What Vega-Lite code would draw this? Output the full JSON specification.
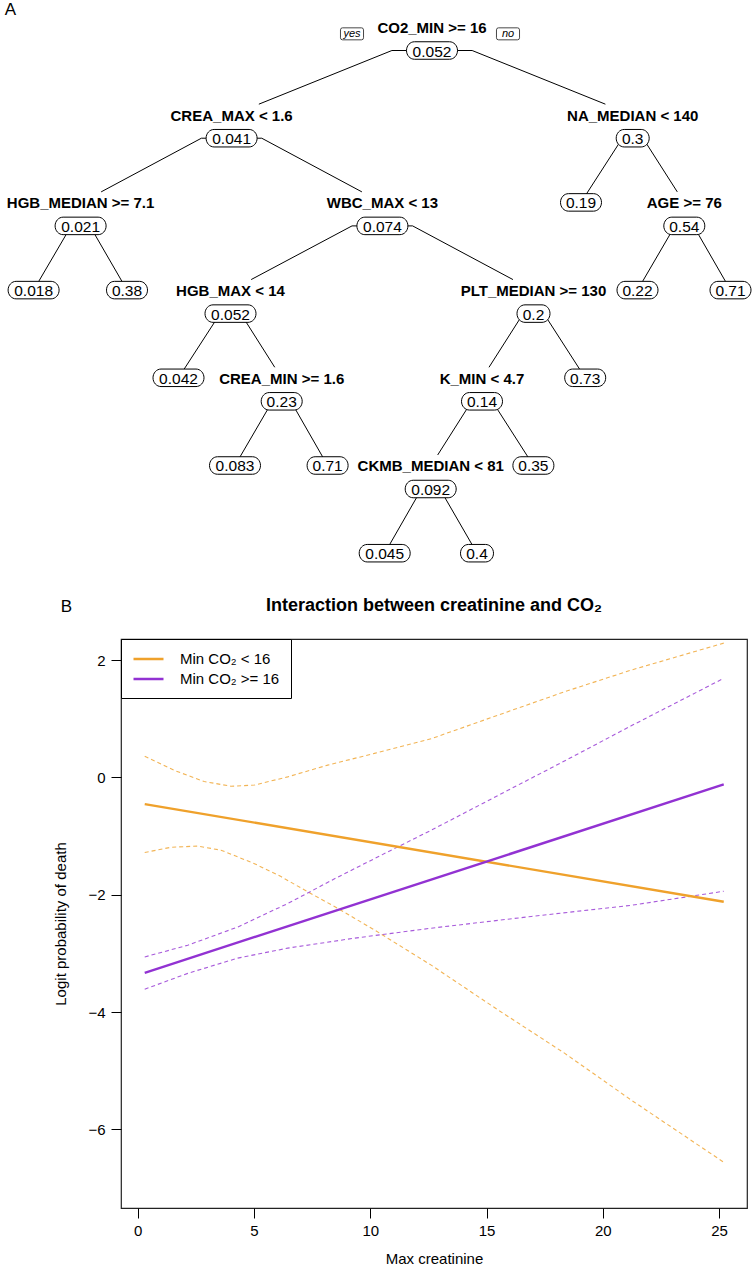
{
  "$schema": "https://vega.github.io/schema/vega-lite/v6.json",
  "background": "white",
  "padding": {"left": 4, "top": 0, "right": 0, "bottom": 0},
  "bounds": "flush",
  "spacing": 19,
  "resolve": {"scale": {"color": "independent", "shape": "independent"}, "legend": {"color": "independent", "shape": "independent"}},
  "config": {"font": "Liberation Sans", "text": {"font": "Liberation Sans"}},
  "datasets": {
    "nodes": [
      {"id": 1, "parent": null, "split": "CO2_MIN >= 16", "val": "0.052", "tx": 431, "d": 0},
      {"id": 2, "parent": 1, "split": "CREA_MAX < 1.6", "val": "0.041", "tx": 230.6, "d": 1},
      {"id": 3, "parent": 1, "split": "NA_MEDIAN < 140", "val": "0.3", "tx": 631.7, "d": 1},
      {"id": 4, "parent": 2, "split": "HGB_MEDIAN >= 7.1", "val": "0.021", "tx": 79.6, "d": 2},
      {"id": 5, "parent": 2, "split": "WBC_MAX < 13", "val": "0.074", "tx": 381.4, "d": 2},
      {"id": 6, "parent": 3, "split": "AGE >= 76", "val": "0.54", "tx": 683.3, "d": 2},
      {"id": 7, "parent": 5, "split": "HGB_MAX < 14", "val": "0.052", "tx": 229.5, "d": 3},
      {"id": 8, "parent": 5, "split": "PLT_MEDIAN >= 130", "val": "0.2", "tx": 532.5, "d": 3},
      {"id": 9, "parent": 7, "split": "CREA_MIN >= 1.6", "val": "0.23", "tx": 280.7, "d": 4},
      {"id": 10, "parent": 8, "split": "K_MIN < 4.7", "val": "0.14", "tx": 481, "d": 4},
      {"id": 11, "parent": 10, "split": "CKMB_MEDIAN < 81", "val": "0.092", "tx": 429.7, "d": 5},
      {"id": 12, "parent": 4, "split": "", "val": "0.018", "tx": 32.6, "d": 3},
      {"id": 13, "parent": 4, "split": "", "val": "0.38", "tx": 126, "d": 3},
      {"id": 14, "parent": 3, "split": "", "val": "0.19", "tx": 580, "d": 2},
      {"id": 15, "parent": 6, "split": "", "val": "0.22", "tx": 636.5, "d": 3},
      {"id": 16, "parent": 6, "split": "", "val": "0.71", "tx": 729.5, "d": 3},
      {"id": 17, "parent": 7, "split": "", "val": "0.042", "tx": 177.5, "d": 4},
      {"id": 18, "parent": 8, "split": "", "val": "0.73", "tx": 584.2, "d": 4},
      {"id": 19, "parent": 9, "split": "", "val": "0.083", "tx": 234, "d": 5},
      {"id": 20, "parent": 9, "split": "", "val": "0.71", "tx": 326.6, "d": 5},
      {"id": 21, "parent": 10, "split": "", "val": "0.35", "tx": 532.4, "d": 5},
      {"id": 22, "parent": 11, "split": "", "val": "0.045", "tx": 383.7, "d": 6},
      {"id": 23, "parent": 11, "split": "", "val": "0.4", "tx": 476, "d": 6}
    ],
    "ann": [
      {"kind": "yn", "txt": "yes", "tx": 351, "d": 0.078},
      {"kind": "yn", "txt": "no", "tx": 507, "d": 0.078},
      {"kind": "panel", "txt": "A", "tx": 9.5, "d": -0.194},
      {"kind": "panel", "txt": "B", "tx": 65.5, "d": 6.613}
    ],
    "curves": [
      {"g": "Min CO₂ < 16", "b": "fit", "x": 0.3, "y": -0.455},
      {"g": "Min CO₂ < 16", "b": "fit", "x": 25.2, "y": -2.12},
      {"g": "Min CO₂ < 16", "b": "upper", "x": 0.3, "y": 0.36},
      {"g": "Min CO₂ < 16", "b": "upper", "x": 1.57, "y": 0.12},
      {"g": "Min CO₂ < 16", "b": "upper", "x": 2.86, "y": -0.07},
      {"g": "Min CO₂ < 16", "b": "upper", "x": 4.01, "y": -0.15},
      {"g": "Min CO₂ < 16", "b": "upper", "x": 5.02, "y": -0.13},
      {"g": "Min CO₂ < 16", "b": "upper", "x": 6.45, "y": 0.01},
      {"g": "Min CO₂ < 16", "b": "upper", "x": 8.17, "y": 0.21},
      {"g": "Min CO₂ < 16", "b": "upper", "x": 10.18, "y": 0.41},
      {"g": "Min CO₂ < 16", "b": "upper", "x": 12.62, "y": 0.66},
      {"g": "Min CO₂ < 16", "b": "upper", "x": 15.48, "y": 1.06},
      {"g": "Min CO₂ < 16", "b": "upper", "x": 18.35, "y": 1.46},
      {"g": "Min CO₂ < 16", "b": "upper", "x": 21.22, "y": 1.83},
      {"g": "Min CO₂ < 16", "b": "upper", "x": 25.2, "y": 2.29},
      {"g": "Min CO₂ < 16", "b": "lower", "x": 0.3, "y": -1.28},
      {"g": "Min CO₂ < 16", "b": "lower", "x": 1.43, "y": -1.19},
      {"g": "Min CO₂ < 16", "b": "lower", "x": 2.58, "y": -1.17},
      {"g": "Min CO₂ < 16", "b": "lower", "x": 3.58, "y": -1.24},
      {"g": "Min CO₂ < 16", "b": "lower", "x": 5.02, "y": -1.47},
      {"g": "Min CO₂ < 16", "b": "lower", "x": 6.16, "y": -1.69},
      {"g": "Min CO₂ < 16", "b": "lower", "x": 7.31, "y": -1.95},
      {"g": "Min CO₂ < 16", "b": "lower", "x": 8.46, "y": -2.2},
      {"g": "Min CO₂ < 16", "b": "lower", "x": 9.32, "y": -2.4},
      {"g": "Min CO₂ < 16", "b": "lower", "x": 10.18, "y": -2.6},
      {"g": "Min CO₂ < 16", "b": "lower", "x": 12.62, "y": -3.2},
      {"g": "Min CO₂ < 16", "b": "lower", "x": 15.48, "y": -3.96},
      {"g": "Min CO₂ < 16", "b": "lower", "x": 18.35, "y": -4.7},
      {"g": "Min CO₂ < 16", "b": "lower", "x": 21.22, "y": -5.5},
      {"g": "Min CO₂ < 16", "b": "lower", "x": 25.2, "y": -6.56},
      {"g": "Min CO₂ >= 16", "b": "fit", "x": 0.3, "y": -3.33},
      {"g": "Min CO₂ >= 16", "b": "fit", "x": 25.2, "y": -0.12},
      {"g": "Min CO₂ >= 16", "b": "upper", "x": 0.3, "y": -3.06},
      {"g": "Min CO₂ >= 16", "b": "upper", "x": 2.15, "y": -2.86},
      {"g": "Min CO₂ >= 16", "b": "upper", "x": 4.3, "y": -2.55},
      {"g": "Min CO₂ >= 16", "b": "upper", "x": 6.45, "y": -2.15},
      {"g": "Min CO₂ >= 16", "b": "upper", "x": 8.5, "y": -1.72},
      {"g": "Min CO₂ >= 16", "b": "upper", "x": 10.5, "y": -1.32},
      {"g": "Min CO₂ >= 16", "b": "upper", "x": 12.62, "y": -0.9},
      {"g": "Min CO₂ >= 16", "b": "upper", "x": 15.48, "y": -0.31},
      {"g": "Min CO₂ >= 16", "b": "upper", "x": 18.35, "y": 0.28},
      {"g": "Min CO₂ >= 16", "b": "upper", "x": 21.22, "y": 0.88},
      {"g": "Min CO₂ >= 16", "b": "upper", "x": 25.2, "y": 1.69},
      {"g": "Min CO₂ >= 16", "b": "lower", "x": 0.3, "y": -3.61},
      {"g": "Min CO₂ >= 16", "b": "lower", "x": 2.15, "y": -3.34},
      {"g": "Min CO₂ >= 16", "b": "lower", "x": 4.3, "y": -3.08},
      {"g": "Min CO₂ >= 16", "b": "lower", "x": 6.45, "y": -2.91},
      {"g": "Min CO₂ >= 16", "b": "lower", "x": 9.32, "y": -2.74},
      {"g": "Min CO₂ >= 16", "b": "lower", "x": 12.62, "y": -2.57},
      {"g": "Min CO₂ >= 16", "b": "lower", "x": 16.92, "y": -2.37},
      {"g": "Min CO₂ >= 16", "b": "lower", "x": 21.22, "y": -2.18},
      {"g": "Min CO₂ >= 16", "b": "lower", "x": 25.2, "y": -1.94}
    ]
  },
  "vconcat": [
    {
      "width": 626,
      "height": 620,
      "view": {"stroke": null},
      "layer": [
        {
          "data": {"name": "nodes"},
          "transform": [
            {"filter": "datum.parent != null"},
            {"lookup": "parent", "from": {"data": {"name": "nodes"}, "key": "id", "fields": ["tx", "d"]}, "as": ["px", "pd"]},
            {"calculate": "datum.pd + 0.268", "as": "ys"},
            {"calculate": "datum.px + 0.2 * (datum.tx - datum.px)", "as": "ex"}
          ],
          "mark": {"type": "rule", "color": "black", "strokeWidth": 1},
          "encoding": {
            "x": {"field": "px", "type": "quantitative", "scale": {"domain": [120, 746], "nice": false, "zero": false}, "axis": null},
            "x2": {"field": "ex"},
            "y": {"field": "ys", "type": "quantitative", "scale": {"domain": [-0.3079, 6.7617], "nice": false, "zero": false, "reverse": true}, "axis": null}
          }
        },
        {
          "data": {"name": "nodes"},
          "transform": [
            {"filter": "datum.parent != null"},
            {"lookup": "parent", "from": {"data": {"name": "nodes"}, "key": "id", "fields": ["tx", "d"]}, "as": ["px", "pd"]},
            {"calculate": "datum.pd + 0.268", "as": "ys"},
            {"calculate": "datum.px + 0.2 * (datum.tx - datum.px)", "as": "ex"},
            {"calculate": "datum.split ? datum.ex + 0.83 * (datum.tx - datum.ex) : datum.tx", "as": "xe"},
            {"calculate": "datum.split ? datum.d - 0.12 : datum.d", "as": "ye"}
          ],
          "mark": {"type": "rule", "color": "black", "strokeWidth": 1},
          "encoding": {
            "x": {"field": "ex", "type": "quantitative", "scale": {"domain": [120, 746], "nice": false, "zero": false}, "axis": null},
            "x2": {"field": "xe"},
            "y": {"field": "ys", "type": "quantitative", "scale": {"domain": [-0.3079, 6.7617], "nice": false, "zero": false, "reverse": true}, "axis": null},
            "y2": {"field": "ye"}
          }
        },
        {
          "data": {"name": "nodes"},
          "transform": [
            {"calculate": "datum.split ? datum.d + 0.268 : datum.d", "as": "ny"},
            {"calculate": "'w' + length(datum.val)", "as": "w"}
          ],
          "mark": {"type": "point", "filled": true, "fill": "white", "stroke": "black", "strokeWidth": 1, "size": 2500, "opacity": 1},
          "encoding": {
            "x": {"field": "tx", "type": "quantitative", "scale": {"domain": [120, 746], "nice": false, "zero": false}, "axis": null},
            "y": {"field": "ny", "type": "quantitative", "scale": {"domain": [-0.3079, 6.7617], "nice": false, "zero": false, "reverse": true}, "axis": null},
            "shape": {
              "field": "w", "type": "nominal", "legend": null,
              "scale": {
                "domain": ["w3", "w4", "w5"],
                "range": [
                  "M -0.34,-0.35 L 0.34,-0.35 C 0.517,-0.35 0.66,-0.193 0.66,0 C 0.66,0.193 0.517,0.35 0.34,0.35 L -0.34,0.35 C -0.517,0.35 -0.66,0.193 -0.66,0 C -0.66,-0.193 -0.517,-0.35 -0.34,-0.35 Z",
                  "M -0.5,-0.35 L 0.5,-0.35 C 0.677,-0.35 0.82,-0.193 0.82,0 C 0.82,0.193 0.677,0.35 0.5,0.35 L -0.5,0.35 C -0.677,0.35 -0.82,0.193 -0.82,0 C -0.82,-0.193 -0.677,-0.35 -0.5,-0.35 Z",
                  "M -0.7,-0.35 L 0.7,-0.35 C 0.877,-0.35 1.02,-0.193 1.02,0 C 1.02,0.193 0.877,0.35 0.7,0.35 L -0.7,0.35 C -0.877,0.35 -1.02,0.193 -1.02,0 C -1.02,-0.193 -0.877,-0.35 -0.7,-0.35 Z"
                ]
              }
            }
          }
        },
        {
          "data": {"name": "nodes"},
          "transform": [
            {"calculate": "datum.split ? datum.d + 0.268 : datum.d", "as": "ny"}
          ],
          "mark": {"type": "text", "font": "Liberation Sans", "fontSize": 15.5, "color": "black", "baseline": "middle", "align": "center", "dy": 1},
          "encoding": {
            "x": {"field": "tx", "type": "quantitative", "scale": {"domain": [120, 746], "nice": false, "zero": false}, "axis": null},
            "y": {"field": "ny", "type": "quantitative", "scale": {"domain": [-0.3079, 6.7617], "nice": false, "zero": false, "reverse": true}, "axis": null},
            "text": {"field": "val"}
          }
        },
        {
          "data": {"name": "nodes"},
          "transform": [{"filter": "datum.split != ''"}],
          "mark": {"type": "text", "font": "Liberation Sans", "fontSize": 15, "fontWeight": "bold", "color": "black", "baseline": "middle", "align": "center", "dy": 1},
          "encoding": {
            "x": {"field": "tx", "type": "quantitative", "scale": {"domain": [120, 746], "nice": false, "zero": false}, "axis": null},
            "y": {"field": "d", "type": "quantitative", "scale": {"domain": [-0.3079, 6.7617], "nice": false, "zero": false, "reverse": true}, "axis": null},
            "text": {"field": "split"}
          }
        },
        {
          "data": {"name": "ann"},
          "transform": [{"filter": "datum.kind == 'yn'"}],
          "mark": {"type": "point", "filled": true, "fill": "white", "stroke": "#333333", "strokeWidth": 0.9, "size": 576, "opacity": 1,
            "shape": "M -0.79,-0.5 L 0.79,-0.5 Q 0.96,-0.5 0.96,-0.33 L 0.96,0.33 Q 0.96,0.5 0.79,0.5 L -0.79,0.5 Q -0.96,0.5 -0.96,0.33 L -0.96,-0.33 Q -0.96,-0.5 -0.79,-0.5 Z"},
          "encoding": {
            "x": {"field": "tx", "type": "quantitative", "scale": {"domain": [120, 746], "nice": false, "zero": false}, "axis": null},
            "y": {"field": "d", "type": "quantitative", "scale": {"domain": [-0.3079, 6.7617], "nice": false, "zero": false, "reverse": true}, "axis": null}
          }
        },
        {
          "data": {"name": "ann"},
          "transform": [{"filter": "datum.kind == 'yn'"}],
          "mark": {"type": "text", "font": "Liberation Sans", "fontSize": 11, "fontStyle": "italic", "color": "black", "baseline": "middle", "align": "center", "dy": 0.5},
          "encoding": {
            "x": {"field": "tx", "type": "quantitative", "scale": {"domain": [120, 746], "nice": false, "zero": false}, "axis": null},
            "y": {"field": "d", "type": "quantitative", "scale": {"domain": [-0.3079, 6.7617], "nice": false, "zero": false, "reverse": true}, "axis": null},
            "text": {"field": "txt"}
          }
        },
        {
          "data": {"name": "ann"},
          "transform": [{"filter": "datum.kind == 'panel'"}],
          "mark": {"type": "text", "font": "Liberation Sans", "fontSize": 17, "color": "black", "baseline": "middle", "align": "center"},
          "encoding": {
            "x": {"field": "tx", "type": "quantitative", "scale": {"domain": [120, 746], "nice": false, "zero": false}, "axis": null},
            "y": {"field": "d", "type": "quantitative", "scale": {"domain": [-0.3079, 6.7617], "nice": false, "zero": false, "reverse": true}, "axis": null},
            "text": {"field": "txt"}
          }
        }
      ]
    },
    {
      "width": 626,
      "height": 569,
      "view": {"stroke": "#222222", "strokeWidth": 1.2},
      "title": {"text": "Interaction between creatinine and CO₂", "font": "Liberation Sans", "fontSize": 18, "fontWeight": "bold", "color": "black", "anchor": "middle", "baseline": "bottom", "offset": 6},
      "data": {"name": "curves"},
      "layer": [
        {
          "transform": [{"filter": "datum.b != 'fit'"}],
          "mark": {"type": "line", "strokeWidth": 1.1, "strokeDash": [4, 3], "strokeOpacity": 0.8},
          "encoding": {
            "x": {"field": "x", "type": "quantitative", "scale": {"domain": [-0.72, 26.2], "nice": false, "zero": false},
              "axis": {"values": [0, 5, 10, 15, 20, 25], "format": "d", "domain": false, "grid": false, "tickSize": 10, "tickColor": "black", "labelFont": "Liberation Sans", "labelFontSize": 15, "labelColor": "black", "labelPadding": 5, "title": "Max creatinine", "titleFont": "Liberation Sans", "titleFontSize": 15, "titleFontWeight": "normal", "titleColor": "black", "titlePadding": 13}},
            "y": {"field": "y", "type": "quantitative", "scale": {"domain": [-7.34, 2.36], "nice": false, "zero": false},
              "axis": {"values": [-6, -4, -2, 0, 2], "format": "d", "domain": false, "grid": false, "tickSize": 10, "tickColor": "black", "labelFont": "Liberation Sans", "labelFontSize": 15, "labelColor": "black", "labelPadding": 6, "title": "Logit probability of death", "titleFont": "Liberation Sans", "titleFontSize": 15, "titleFontWeight": "normal", "titleColor": "black", "titlePadding": 19}},
            "color": {"field": "g", "type": "nominal",
              "scale": {"domain": ["Min CO₂ < 16", "Min CO₂ >= 16"], "range": ["#EFA12B", "#9232D2"]},
              "legend": {"title": null, "orient": "top-left", "offset": 0, "padding": 11, "strokeColor": "black", "fillColor": "white", "symbolType": "M -1,0 L 3,0", "symbolSize": 225, "symbolStrokeWidth": 2.4, "symbolDash": [1, 0], "symbolOpacity": 1, "labelFont": "Liberation Sans", "labelFontSize": 15, "labelColor": "black", "labelOffset": 30, "rowPadding": 3}},
            "detail": {"field": "b"}
          }
        },
        {
          "transform": [{"filter": "datum.b == 'fit'"}],
          "mark": {"type": "line", "strokeWidth": 2.4},
          "encoding": {
            "x": {"field": "x", "type": "quantitative"},
            "y": {"field": "y", "type": "quantitative"},
            "color": {"field": "g", "type": "nominal"}
          }
        }
      ]
    }
  ]
}
